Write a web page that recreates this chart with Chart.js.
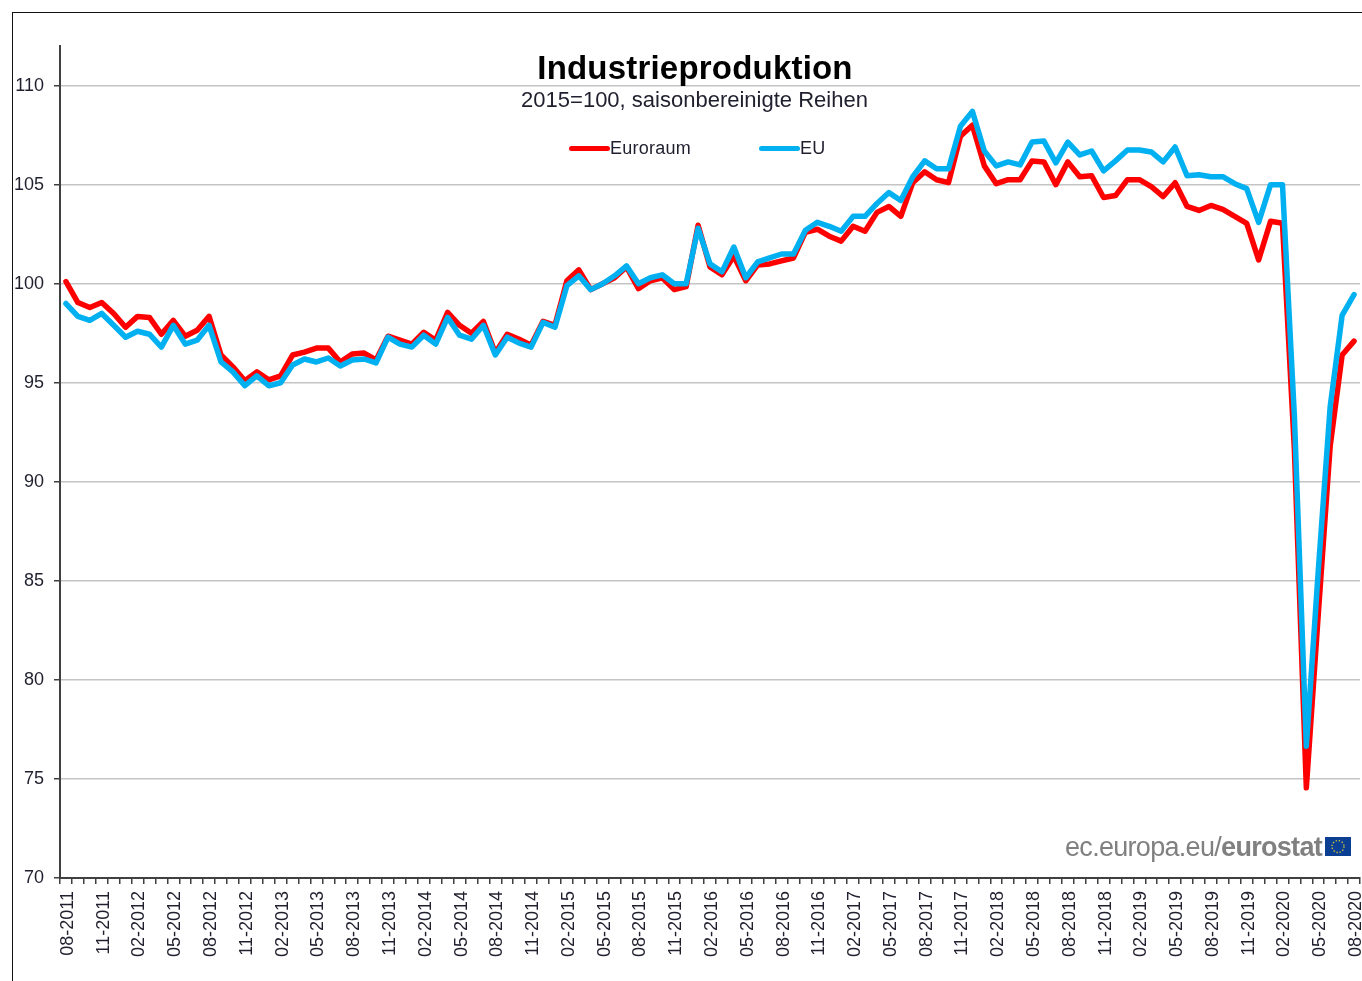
<!DOCTYPE html>
<html>
<head>
<meta charset="utf-8">
<title>Industrieproduktion</title>
<script src="https://cdn.jsdelivr.net/npm/chart.js@4"></script>
<style>
    body { margin: 0; background: #fff; font-family: "Liberation Sans", Arial, sans-serif; }
    #wrap { position: relative; width: 1362px; height: 981px; overflow: hidden; }
    #frame { position: absolute; left: 12px; top: 12px; width: 1360px; height: 980px; border-left: 1.5px solid #111; border-top: 1.5px solid #111; }
    canvas { position: absolute; left: 0; top: 0; }
    .label { position: absolute; white-space: nowrap; color: #1f1f2e; }
    #title { left: 495px; width: 400px; top: 49px; text-align: center; font-size: 33px; font-weight: bold; color: #000; letter-spacing: 0.2px; }
    #subtitle { left: 494px; width: 401px; top: 87px; text-align: center; font-size: 22px; }
    .swatch { position: absolute; height: 5px; border-radius: 3px; top: 146px; width: 41px; }
    .legendText { top: 138px; font-size: 18px; letter-spacing: 0.25px; }
    #source { right: 40px; top: 832px; font-size: 27px; color: #808080; letter-spacing: -0.7px; }
    #flag { position: absolute; left: 1325px; top: 837px; }
</style>
</head>
<body>
<div id="wrap">
    <div id="frame"></div>
    <canvas id="chart" width="1362" height="981"></canvas>
    <div class="label" id="title">Industrieproduktion</div>
    <div class="label" id="subtitle">2015=100, saisonbereinigte Reihen</div>
    <div class="swatch" style="left:569px;background:#ff0000"></div>
    <div class="label legendText" style="left:610px">Euroraum</div>
    <div class="swatch" style="left:759px;background:#00b0f0"></div>
    <div class="label legendText" style="left:800px">EU</div>
    <div class="label" id="source">ec.europa.eu/<b>eurostat</b></div>
    <svg id="flag" width="26" height="19">
        <rect width="26" height="19" fill="#0b3f94"></rect>
        <circle cx="13" cy="9.5" r="6" fill="none" stroke="#c9c23a" stroke-width="1.4" stroke-dasharray="1.4 1.74"></circle>
    </svg>
</div>
<script>
const months = [
    '08-2011', '09-2011', '10-2011', '11-2011', '12-2011',
    '01-2012', '02-2012', '03-2012', '04-2012', '05-2012', '06-2012', '07-2012', '08-2012', '09-2012', '10-2012', '11-2012', '12-2012',
    '01-2013', '02-2013', '03-2013', '04-2013', '05-2013', '06-2013', '07-2013', '08-2013', '09-2013', '10-2013', '11-2013', '12-2013',
    '01-2014', '02-2014', '03-2014', '04-2014', '05-2014', '06-2014', '07-2014', '08-2014', '09-2014', '10-2014', '11-2014', '12-2014',
    '01-2015', '02-2015', '03-2015', '04-2015', '05-2015', '06-2015', '07-2015', '08-2015', '09-2015', '10-2015', '11-2015', '12-2015',
    '01-2016', '02-2016', '03-2016', '04-2016', '05-2016', '06-2016', '07-2016', '08-2016', '09-2016', '10-2016', '11-2016', '12-2016',
    '01-2017', '02-2017', '03-2017', '04-2017', '05-2017', '06-2017', '07-2017', '08-2017', '09-2017', '10-2017', '11-2017', '12-2017',
    '01-2018', '02-2018', '03-2018', '04-2018', '05-2018', '06-2018', '07-2018', '08-2018', '09-2018', '10-2018', '11-2018', '12-2018',
    '01-2019', '02-2019', '03-2019', '04-2019', '05-2019', '06-2019', '07-2019', '08-2019', '09-2019', '10-2019', '11-2019', '12-2019',
    '01-2020', '02-2020', '03-2020', '04-2020', '05-2020', '06-2020', '07-2020', '08-2020'
];

const euroraum = [
    100.1, 99.05, 98.8, 99.05, 98.5, 97.8, 98.35, 98.3, 97.45, 98.15, 97.35, 97.65, 98.35, 96.4, 95.8, 95.1, 95.55,
    95.15, 95.35, 96.4, 96.55, 96.75, 96.75, 96.05, 96.45, 96.5, 96.15, 97.35, 97.15, 96.95, 97.55, 97.15, 98.55,
    97.9, 97.5, 98.1, 96.5, 97.45, 97.2, 96.9, 98.1, 97.9, 100.15, 100.7, 99.7, 100.0, 100.3, 100.85, 99.75, 100.15,
    100.3, 99.7, 99.85, 102.95, 100.85, 100.45, 101.4, 100.15, 100.95, 101.0, 101.15, 101.3, 102.6, 102.75, 102.4, 102.15,
    102.9, 102.65, 103.6, 103.9, 103.4, 105.1, 105.65, 105.25, 105.1, 107.45, 108.0, 105.95, 105.05, 105.25, 105.25, 106.2,
    106.15, 105.0, 106.15, 105.4, 105.45, 104.35, 104.45, 105.25, 105.25, 104.9, 104.4, 105.1, 103.9, 103.7, 103.95, 103.75,
    103.4, 103.05, 101.2, 103.15, 103.05, 91.6, 74.55, 83.3, 91.8, 96.4, 97.1
];

const eu = [
    99.0, 98.35, 98.15, 98.5, 97.9, 97.3, 97.6, 97.45, 96.8, 97.9, 96.95, 97.15, 97.9, 96.05, 95.55, 94.85, 95.35,
    94.85, 95.0, 95.9, 96.2, 96.05, 96.25, 95.85, 96.15, 96.2, 96.0, 97.3, 96.95, 96.8, 97.4, 96.95, 98.3,
    97.4, 97.2, 97.9, 96.4, 97.3, 97.0, 96.8, 98.05, 97.8, 99.9, 100.4, 99.7, 100.0, 100.4, 100.9, 100.0, 100.3,
    100.45, 100.0, 100.0, 102.8, 101.0, 100.6, 101.85, 100.3, 101.1, 101.3, 101.5, 101.5, 102.7, 103.1, 102.9, 102.65,
    103.4, 103.4, 104.05, 104.6, 104.2, 105.4, 106.2, 105.8, 105.8, 107.95, 108.7, 106.7, 105.95, 106.15, 106.0, 107.15,
    107.2, 106.1, 107.15, 106.5, 106.7, 105.7, 106.2, 106.75, 106.75, 106.65, 106.15, 106.9, 105.45, 105.5, 105.4, 105.4,
    105.05, 104.8, 103.1, 105.0, 105.0, 93.3, 76.65, 85.5, 93.8, 98.4, 99.45
];

const yTicks = [70, 75, 80, 85, 90, 95, 100, 105, 110];

const axisColor = '#404040';
const gridColor = '#c4c4c4';
const textColor = '#1f1f2e';
const tickFont = { family: '"Liberation Sans"', size: 18 };

const chart = new Chart(document.getElementById('chart'), {
    type: 'line',
    data: {
        labels: months,
        datasets: [
            // lower order is painted last, EU has to sit on top of Euroraum
            { label: 'Euroraum', data: euroraum, borderColor: '#ff0000', order: 2 },
            { label: 'EU', data: eu, borderColor: '#00b0f0', order: 1 }
        ]
    },
    options: {
        responsive: false,
        animation: false,
        layout: { autoPadding: false, padding: { top: 46, right: 2, left: 0, bottom: 0 } },
        elements: {
            line: { borderWidth: 5.5, tension: 0, borderJoinStyle: 'round', borderCapStyle: 'round' },
            point: { radius: 0 }
        },
        plugins: {
            legend: { display: false },
            title: { display: false },
            tooltip: { enabled: false }
        },
        scales: {
            x: {
                offset: true,
                border: { color: axisColor, width: 2 },
                grid: { offset: true, drawOnChartArea: false, color: axisColor, tickColor: axisColor, tickLength: 6, lineWidth: 1.5 },
                ticks: {
                    autoSkip: false,
                    maxRotation: 90,
                    minRotation: 90,
                    padding: 7,
                    labelOffset: 2,
                    color: textColor,
                    font: tickFont,
                    callback: function(value, index) {
                        return index % 3 === 0 ? months[index] : '';
                    }
                },
                afterFit: function(scale) {
                    // the rotated last label would otherwise pull the plot in from the right
                    scale.height = 103;
                    scale.paddingLeft = 0;
                    scale.paddingRight = 0;
                }
            },
            y: {
                min: 70,
                max: 112,
                border: { color: axisColor, width: 2 },
                grid: { color: gridColor, tickColor: axisColor, tickLength: 6, lineWidth: 1.5 },
                ticks: { padding: 10, color: textColor, font: tickFont },
                afterBuildTicks: function(scale) {
                    scale.ticks = yTicks.map(value => ({ value: value }));
                },
                afterFit: function(scale) {
                    scale.width = 60;
                    scale.paddingTop = 0;
                    scale.paddingBottom = 0;
                }
            }
        }
    }
});
</script>
</body>
</html>
